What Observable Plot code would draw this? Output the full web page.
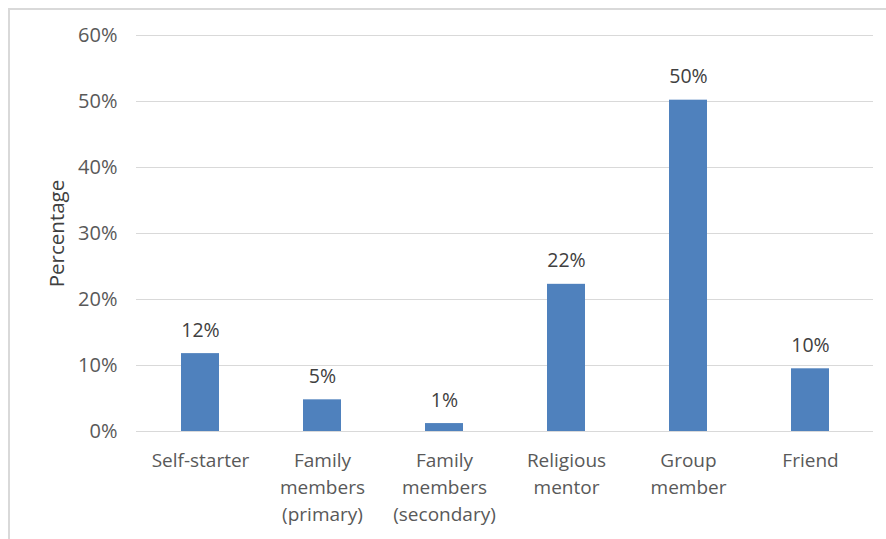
<!DOCTYPE html>
<html>
<head>
<meta charset="utf-8">
<script src="https://cdn.jsdelivr.net/npm/d3@7"></script>
<script src="https://cdn.jsdelivr.net/npm/@observablehq/plot@0.6"></script>
<style>
  html, body { margin: 0; padding: 0; background: #fff; }
  #wrap { position: relative; width: 886px; height: 539px; overflow: hidden; }
  #frame { position: absolute; left: 8px; top: 8px; width: 900px; height: 560px;
           border-left: 2px solid #d9d9d9; border-top: 2px solid #d9d9d9; }
  #chart { position: absolute; left: 0; top: 0; }
</style>
</head>
<body>
<div id="wrap"><div id="frame"></div><div id="chart"></div></div>
<script>
const categories = ["Self-starter", "Family\nmembers\n(primary)", "Family\nmembers\n(secondary)", "Religious\nmentor", "Group\nmember", "Friend"];
const values = [11.8, 4.8, 1.2, 22.3, 50.2, 9.5];
const valueLabels = ["12%", "5%", "1%", "22%", "50%", "10%"];
const yTicks = [0, 10, 20, 30, 40, 50, 60];

const data = categories.map((c, i) => ({cat: c, v: values[i], label: valueLabels[i]}));

const FONT = "'Open Sans', sans-serif";
const chart = Plot.plot({
  width: 886,
  height: 539,
  marginLeft: 136,
  marginRight: 13,
  marginTop: 35,
  marginBottom: 108,
  style: {fontFamily: FONT, fontSize: "19px", color: "#595959", background: "transparent"},
  x: {domain: categories, paddingInner: 0.69, paddingOuter: 0.345, label: null},
  y: {domain: [0, 60], ticks: yTicks, label: null},
  marks: [
    Plot.gridY(yTicks, {stroke: "#d9d9d9", strokeOpacity: 1, strokeWidth: 1}),
    Plot.barY(data, {x: "cat", y: "v", fill: "#4f81bd"}),
    Plot.text(data, {x: "cat", y: "v", text: "label", lineAnchor: "bottom", dy: -17, fill: "#404040", fontSize: 19.5}),
    Plot.axisY(yTicks, {tickSize: 0, tickPadding: 19, tickFormat: d => d + "%", fill: "#595959", fontSize: 20, label: null}),
    Plot.axisX({tickSize: 0, tickPadding: 16, fill: "#595959", fontSize: 19, lineHeight: 1.42, label: null}),
    Plot.text(["Percentage"], {frameAnchor: "left", dx: -79, rotate: -90, textAnchor: "middle", fill: "#404040", fontSize: 20.5, text: d => d})
  ]
});
document.getElementById("chart").appendChild(chart);
</script>
</body>
</html>
